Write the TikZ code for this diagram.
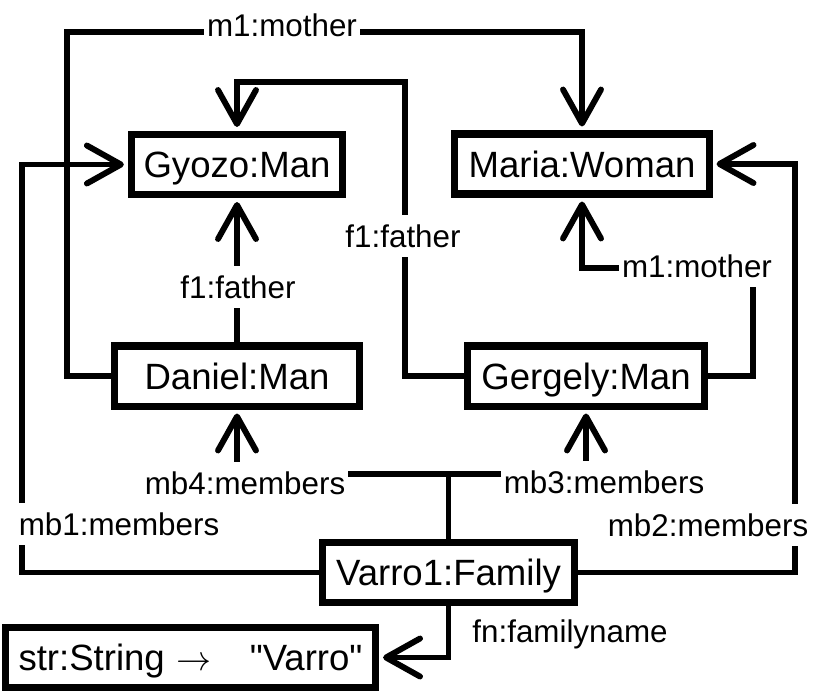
\documentclass[tikz,border=0pt]{standalone}
\usepackage{fontspec}
\setsansfont{Liberation Sans}[Ligatures=TeXOff]
\usetikzlibrary{arrows.meta}
\tikzset{
  every picture/.style={font=\sffamily},
  obj/.style={draw, line width=5pt, minimum height=1.5cm, text depth=0pt,
    inner sep=0pt, font=\sffamily\fontsize{26}{31}\selectfont},
  link/.style={line width=4.2pt},
  arrow/.style={link, -{Straight Barb[length=0.85cm, width=0.95cm, round]}, shorten >=0.1cm},
  role/.style={fill=white, inner xsep=2pt, inner ysep=7pt, text depth=0pt,
    font=\sffamily\fontsize{22.3}{27}\selectfont},
}

\begin{document}
\begin{tikzpicture}[x=0.025cm, y=-0.025cm]
  \useasboundingbox (0,0) rectangle (813,698);
  % objects
  \node[obj, minimum width=5.28cm] (gyozo) at (237,164.5) {Gyozo:Man};
  \node[obj, minimum width=6.35cm] (maria) at (582,164) {Maria:Woman};
  \node[obj, minimum width=6.1cm] (daniel) at (237,376) {Daniel:Man};
  \node[obj, minimum width=5.92cm] (gergely) at (586,376) {Gergely:Man};
  \node[obj, minimum width=6.3cm] (varro) at (448.5,572.5) {Varro1:Family};
  \node[obj, minimum width=9.25cm] (str) at (190.5,657.5) {str:String\hspace{0.3cm}$\rightarrow$\hspace{0.95cm}"Varro"};

  % links between the objects
  \draw[arrow] (daniel.west) -| (67,32) -| (maria.north);
  \draw[arrow] (gergely.west) -| (405,82) -| (gyozo.north);
  \draw[arrow] (daniel.north) -- (gyozo.south);
  \draw[arrow] (gergely.east) -| (753,268) -| (maria.south);
  \draw[arrow] (varro.west) -| (22,300) |- (gyozo.west);
  \draw[arrow] (varro.east) -| (795,300) |- (maria.east);
  \draw[arrow] (varro.north) |- (300,474) -| (daniel.south);
  \draw[arrow] (varro.north) |- (500,474) -| (gergely.south);
  \draw[arrow] (varro.south) |- (str.east);

  % role names
  \node[role] (r-m1a) at (282,25) {m1:mother};
  \node[role] (r-f1a) at (403,236) {f1:father};
  \node[role] (r-f1b) at (238,287) {f1:father};
  \node[role] (r-m1b) at (697,266) {m1:mother};
  \node[role] (r-mb4) at (245,483) {mb4:members};
  \node[role] (r-mb3) at (604,482) {mb3:members};
  \node[role] (r-mb1) at (119,524) {mb1:members};
  \node[role] (r-mb2) at (708,525) {mb2:members};
  \node[role] (r-fn) at (570,631) {fn:familyname};
\end{tikzpicture}
\end{document}
